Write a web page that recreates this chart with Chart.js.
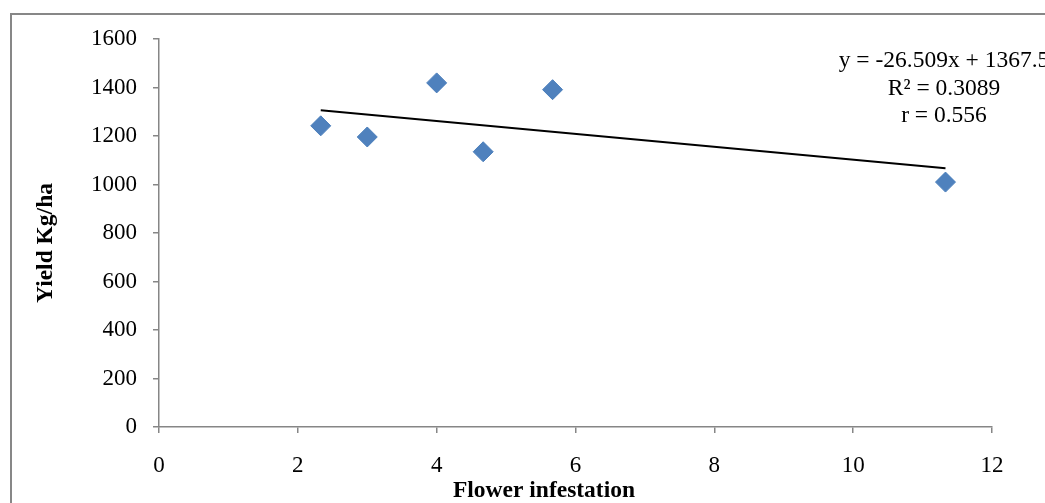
<!DOCTYPE html>
<html>
<head>
<meta charset="utf-8">
<script src="https://cdn.jsdelivr.net/npm/chart.js@4/dist/chart.umd.min.js"></script>
<style>
  html, body { margin: 0; padding: 0; background: #fff; overflow: hidden; }
  #wrap { position: relative; width: 1045px; height: 503px; overflow: hidden; }
  #frame { position: absolute; left: 10px; top: 13px; width: 1200px; height: 700px; border: 2px solid #878787; box-sizing: border-box; }
  canvas { position: absolute; left: 0; top: 0; }
</style>
</head>
<body>
<div id="wrap">
  <div id="frame"></div>
  <canvas id="c" width="1045" height="503"></canvas>
</div>
<script>
// Data
const infestation = [2.33, 3, 4, 4.67, 5.67, 11.33];
const yieldKgHa   = [1242, 1196, 1419, 1135, 1391, 1010];
const trendX      = [2.33, 11.33];
const trendY      = [1306, 1067];
const xTicks      = [0, 2, 4, 6, 8, 10, 12];
const yTicks      = [0, 200, 400, 600, 800, 1000, 1200, 1400, 1600];
const equationLines = ['y = -26.509x + 1367.5', 'R\u00B2 = 0.3089', 'r = 0.556'];
const xTitle = 'Flower infestation';
const yTitle = 'Yield Kg/ha';

const FONT = "'Liberation Serif', 'Times New Roman', serif";
const AXIS = '#868686';

const pts = infestation.map((x, i) => ({ x: x, y: yieldKgHa[i] }));
const trend = trendX.map((x, i) => ({ x: x, y: trendY[i] }));

const textPlugin = {
  id: 'texts',
  afterDraw(chart) {
    const ctx = chart.ctx;
    ctx.save();
    ctx.fillStyle = '#000';
    // x title
    ctx.font = "bold 23.5px " + FONT;
    ctx.textAlign = 'center';
    ctx.textBaseline = 'alphabetic';
    ctx.fillText(xTitle, 544, 497);
    // y title
    ctx.save();
    ctx.translate(52, 243);
    ctx.rotate(-Math.PI / 2);
    ctx.fillText(yTitle, 0, 0);
    ctx.restore();
    // equation
    ctx.font = "23.5px " + FONT;
    const base = [67, 94.5, 121.5];
    equationLines.forEach((t, i) => ctx.fillText(t, 944, base[i]));
    ctx.restore();
  }
};

new Chart(document.getElementById('c'), {
  type: 'scatter',
  data: {
    datasets: [
      {
        label: 'Yield',
        data: pts,
        pointStyle: 'rectRot',
        pointRadius: 10,
        pointHoverRadius: 10,
        backgroundColor: '#4F81BD',
        borderColor: '#4A7EBB',
        borderWidth: 1,
        showLine: false,
        order: 2
      },
      {
        label: 'Trend',
        type: 'line',
        data: trend,
        showLine: true,
        borderColor: '#000',
        borderWidth: 2,
        pointRadius: 0,
        fill: false,
        order: 1
      }
    ]
  },
  options: {
    responsive: false,
    animation: false,
    events: [],
    layout: { padding: { left: 0, top: 39, right: 53, bottom: 0 } },
    plugins: { legend: { display: false }, tooltip: { enabled: false } },
    scales: {
      x: {
        type: 'linear',
        min: 0, max: 12,
        afterFit(s) { s.height = 76; },
        afterBuildTicks(s) { s.ticks = xTicks.map(v => ({ value: v })); },
        grid: { display: true, drawOnChartArea: false, drawTicks: true, tickLength: 6, color: AXIS, lineWidth: 1.5 },
        border: { display: true, color: AXIS, width: 1.5 },
        ticks: { color: '#000', font: { family: FONT, size: 23 }, padding: 19, maxRotation: 0, callback: v => String(v) }
      },
      y: {
        type: 'linear',
        min: 0, max: 1600,
        afterFit(s) { s.width = 159; },
        afterBuildTicks(s) { s.ticks = yTicks.map(v => ({ value: v })); },
        grid: { display: true, drawOnChartArea: false, drawTicks: true, tickLength: 6, color: AXIS, lineWidth: 1.5 },
        border: { display: true, color: AXIS, width: 1.5 },
        ticks: { color: '#000', font: { family: FONT, size: 23 }, padding: 16, callback: v => String(v) }
      }
    }
  },
  plugins: [textPlugin]
});
</script>
</body>
</html>
